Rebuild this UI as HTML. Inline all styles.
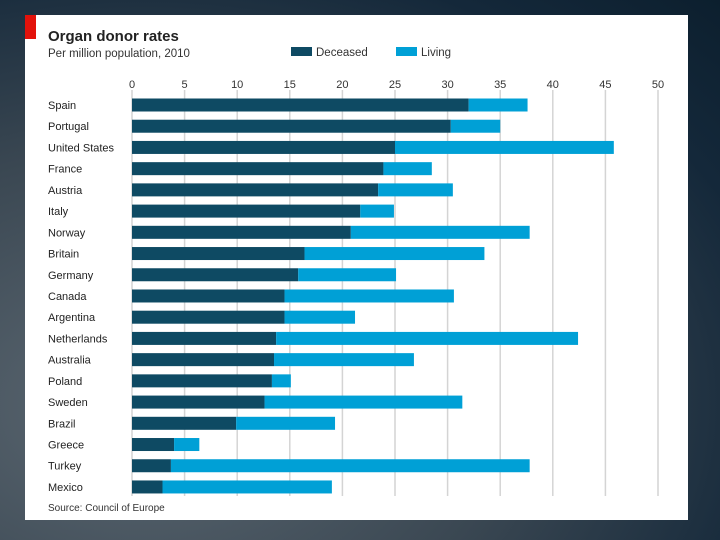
<!DOCTYPE html>
<html><head><meta charset="utf-8"><style>
body{margin:0;width:720px;height:540px;overflow:hidden;background:radial-gradient(ellipse at 20% 75%,#5c6872 0%,#3a4752 45%,#14283a 80%,#0c1f2e 100%);font-family:"Liberation Sans",sans-serif;}
#card{position:absolute;left:25px;top:15px;width:663px;height:505px;background:#fff;}
</style></head><body>
<div id="card"></div>
<svg id="chart" width="720" height="540" style="position:absolute;left:0;top:0">
<rect x="25" y="15" width="11" height="24" fill="#e3120b"/>
<text x="48" y="41" font-size="15" font-weight="bold" fill="#222">Organ donor rates</text>
<text x="48" y="57" font-size="11.5" fill="#333">Per million population, 2010</text>
<rect x="291" y="47" width="21" height="9" fill="#0e4a63"/>
<text x="316" y="56" font-size="11.5" fill="#333">Deceased</text>
<rect x="396" y="47" width="21" height="9" fill="#00a0d6"/>
<text x="421" y="56" font-size="11.5" fill="#333">Living</text>
<text x="48" y="511" font-size="10" fill="#333">Source: Council of Europe</text>
<g id="grid"></g><g id="bars"></g><g id="labels"></g>
</svg>
<script>
const countries=["Spain","Portugal","United States","France","Austria","Italy","Norway","Britain","Germany","Canada","Argentina","Netherlands","Australia","Poland","Sweden","Brazil","Greece","Turkey","Mexico"];
const deceased=[32,30.3,25,23.9,23.4,21.7,20.8,16.4,15.8,14.5,14.5,13.7,13.5,13.3,12.6,9.9,4,3.7,2.9];
const living=[5.6,4.7,20.8,4.6,7.1,3.2,17,17.1,9.3,16.1,6.7,28.7,13.3,1.8,18.8,9.4,2.4,34.1,16.1];
const ticks=[0,5,10,15,20,25,30,35,40,45,50];
const NS="http://www.w3.org/2000/svg";
const x=v=>132+v*10.52;
const y=i=>105+i*21.22;
const mk=(t,a,p)=>{const e=document.createElementNS(NS,t);for(const k in a)e.setAttribute(k,a[k]);p.appendChild(e);return e;};
const G=document.getElementById('grid'),B=document.getElementById('bars'),L=document.getElementById('labels');
ticks.forEach(t=>{
 const l=mk('line',{x1:x(t),x2:x(t),y1:90,y2:496,stroke:'#d4d4d4','stroke-width':1.5},G);
 
 
 const tx=mk('text',{x:x(t),y:88,'font-size':11,fill:'#333','text-anchor':'middle'},L);
 tx.textContent=t;
 
 
});
countries.forEach((c,i)=>{
 const d=mk('rect',{x:x(0),y:y(i)-6.5,width:x(deceased[i])-x(0),height:13,fill:'#0e4a63'},B);
 
 
 const lv=mk('rect',{x:x(deceased[i]),y:y(i)-6.5,width:x(deceased[i]+living[i])-x(deceased[i]),height:13,fill:'#00a0d6'},B);
 
 
 const t=mk('text',{x:48,y:y(i)+4,'font-size':11,fill:'#222'},L);
 t.textContent=c;
 
 
});
</script>
</body></html>
